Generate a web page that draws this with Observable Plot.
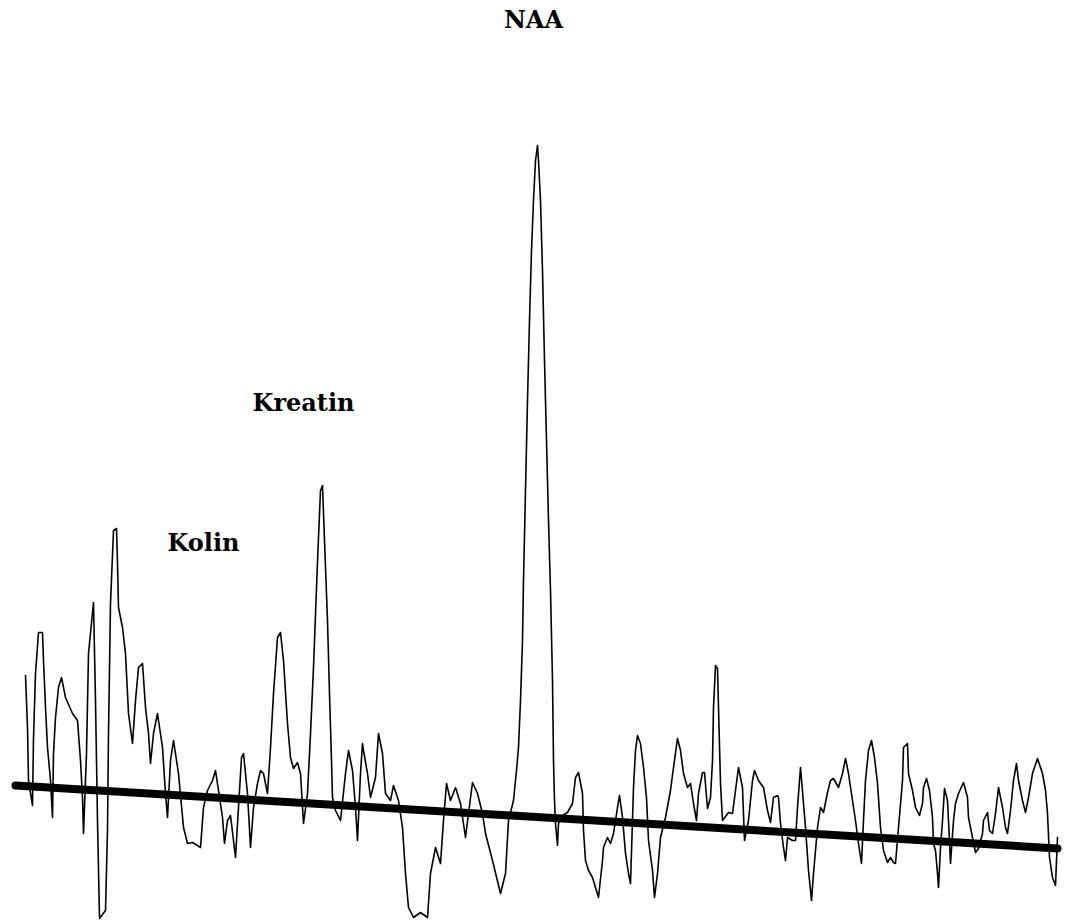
<!DOCTYPE html>
<html>
<head>
<meta charset="utf-8">
<script src="https://cdn.jsdelivr.net/npm/d3@7"></script>
<script src="https://cdn.jsdelivr.net/npm/@observablehq/plot@0.6"></script>
<style>
  html, body { margin: 0; padding: 0; background: #fff; }
  #chart svg { display: block; }
</style>
</head>
<body>
<div id="chart"></div>
<script>
// Spectrum sample positions (arbitrary shift units, left to right)
const shift = [
  25,27,28,32,33,35,38,42,43,45,47,50,52,53,55,58,61,65,72,77,80,82,83,86,88,93,95,97,99,105,
  107,108,110,113,116,117,118,122,125,128,132,135,138,142,145,148,150,153,157,162,165,167,170,173,178,183,187,
  192,197,200,203,207,212,215,218,222,224,227,230,233,235,238,241,243,247,250,253,257,260,263,267,270,273,277,280,
  283,287,290,293,297,300,303,307,310,313,316,318,320,322,324,327,329,331,332,335,340,345,348,352,355,357,360,362,
  363,367,370,375,378,382,385,390,393,398,402,405,408,413,420,427,430,435,440,443,446,450,455,460,465,468,472,477,
  482,485,492,500,505,508,513,
  516,518,520,522,523,525,527,529,531,533,535,537,538,540,542,544,546,548,550,552,553,554,555,557,558,562,567,572,
  575,578,582,583,585,588,592,595,598,602,603,607,610,613,617,619,622,625,628,630,633,635,637,640,643,646,648,652,
  654,657,660,665,670,673,677,680,683,687,690,693,696,698,702,704,707,710,712,713,715,717,718,720,722,728,732,735,
  738,742,744,748,752,754,758,763,767,770,773,777,778,780,783,785,787,792,795,797,800,803,805,808,811,813,817,820,
  823,827,830,833,838,842,845,848,852,855,858,861,863,865,868,871,874,877,880,883,887,890,893,895,898,902,903,907,
  908,912,915,919,922,923,926,929,932,933,935,937,938,940,942,944,947,948,950,953,955,958,963,967,968,972,975,978,
  982,983,987,989,992,995,998,1002,1005,1007,1010,1013,1016,1018,1022,1025,1028,1032,1037,1042,1045,1047,1049,1052,
  1055,1056,1057
];
// Signal intensity at each sample (arbitrary units)
const intensity = [
  245,193,140,115,182,247,288,288,260,213,173,140,103,167,203,233,243,223,207,200,160,123,87,167,267,318,220,100,2,10,
  90,187,317,390,392,357,313,293,267,207,177,220,253,257,213,187,157,187,207,173,127,103,160,180,147,93,77,
  78,75,73,113,130,140,150,130,103,77,100,105,80,63,113,163,167,127,73,113,137,150,147,127,173,227,283,288,
  260,197,163,152,158,147,97,127,187,253,333,383,430,435,380,300,227,160,123,110,100,147,170,150,113,80,147,177,
  170,147,123,143,187,167,127,120,135,120,93,47,13,3,8,3,47,73,57,100,137,120,133,117,83,107,138,127,
  107,87,60,27,47,100,120,
  150,173,220,280,340,430,520,600,670,720,760,775,760,720,650,560,480,400,330,240,160,120,97,75,97,105,108,117,
  143,148,127,90,60,50,43,33,23,60,73,83,77,87,113,125,103,67,47,37,133,170,185,177,153,123,80,50,
  23,47,83,103,130,153,182,170,147,133,137,117,100,127,148,148,112,123,160,213,255,252,213,137,100,108,107,130,
  153,133,80,100,140,150,140,133,110,98,123,125,123,97,73,60,83,80,80,113,153,117,93,50,20,47,93,113,
  108,128,140,142,133,147,162,147,120,100,77,57,100,140,170,180,163,137,93,70,58,63,58,57,93,140,173,177,
  147,130,113,105,117,133,142,130,103,77,70,47,33,73,100,132,120,100,57,100,117,127,138,123,103,83,68,72,
  87,100,108,90,87,107,133,113,93,87,110,140,157,140,120,108,123,147,162,147,130,107,63,43,
  35,60,83
];
// Fitted baseline end points
const baseShift = [15, 1057];
const baseIntensity = [135, 72];
// Peak labels
const peakNames = ["NAA", "Kreatin", "Kolin"];
const peakShift = [533, 303, 203];
const peakLabelLevel = [900, 517, 377];

const spectrum = shift.map((s, i) => ({s, v: intensity[i]}));
const baseline = baseShift.map((s, i) => ({s, v: baseIntensity[i]}));
const labels = peakNames.map((name, i) => ({name, s: peakShift[i], v: peakLabelLevel[i]}));

const chart = Plot.plot({
  width: 1072,
  height: 920,
  margin: 0,
  x: {domain: [0, 1072], axis: null},
  y: {domain: [0, 920], axis: null},
  style: {background: "#fff"},
  marks: [
    Plot.line(spectrum, {x: "s", y: "v", stroke: "#000", strokeWidth: 1.6, curve: "linear"}),
    Plot.line(baseline, {x: "s", y: "v", stroke: "#000", strokeWidth: 8, strokeLinecap: "round"}),
    Plot.text(labels, {x: "s", y: "v", text: "name", fill: "#000", fontSize: 24,
      fontWeight: "bold", fontFamily: "DejaVu Serif, serif"})
  ]
});
document.getElementById("chart").appendChild(chart);
</script>
</body>
</html>
